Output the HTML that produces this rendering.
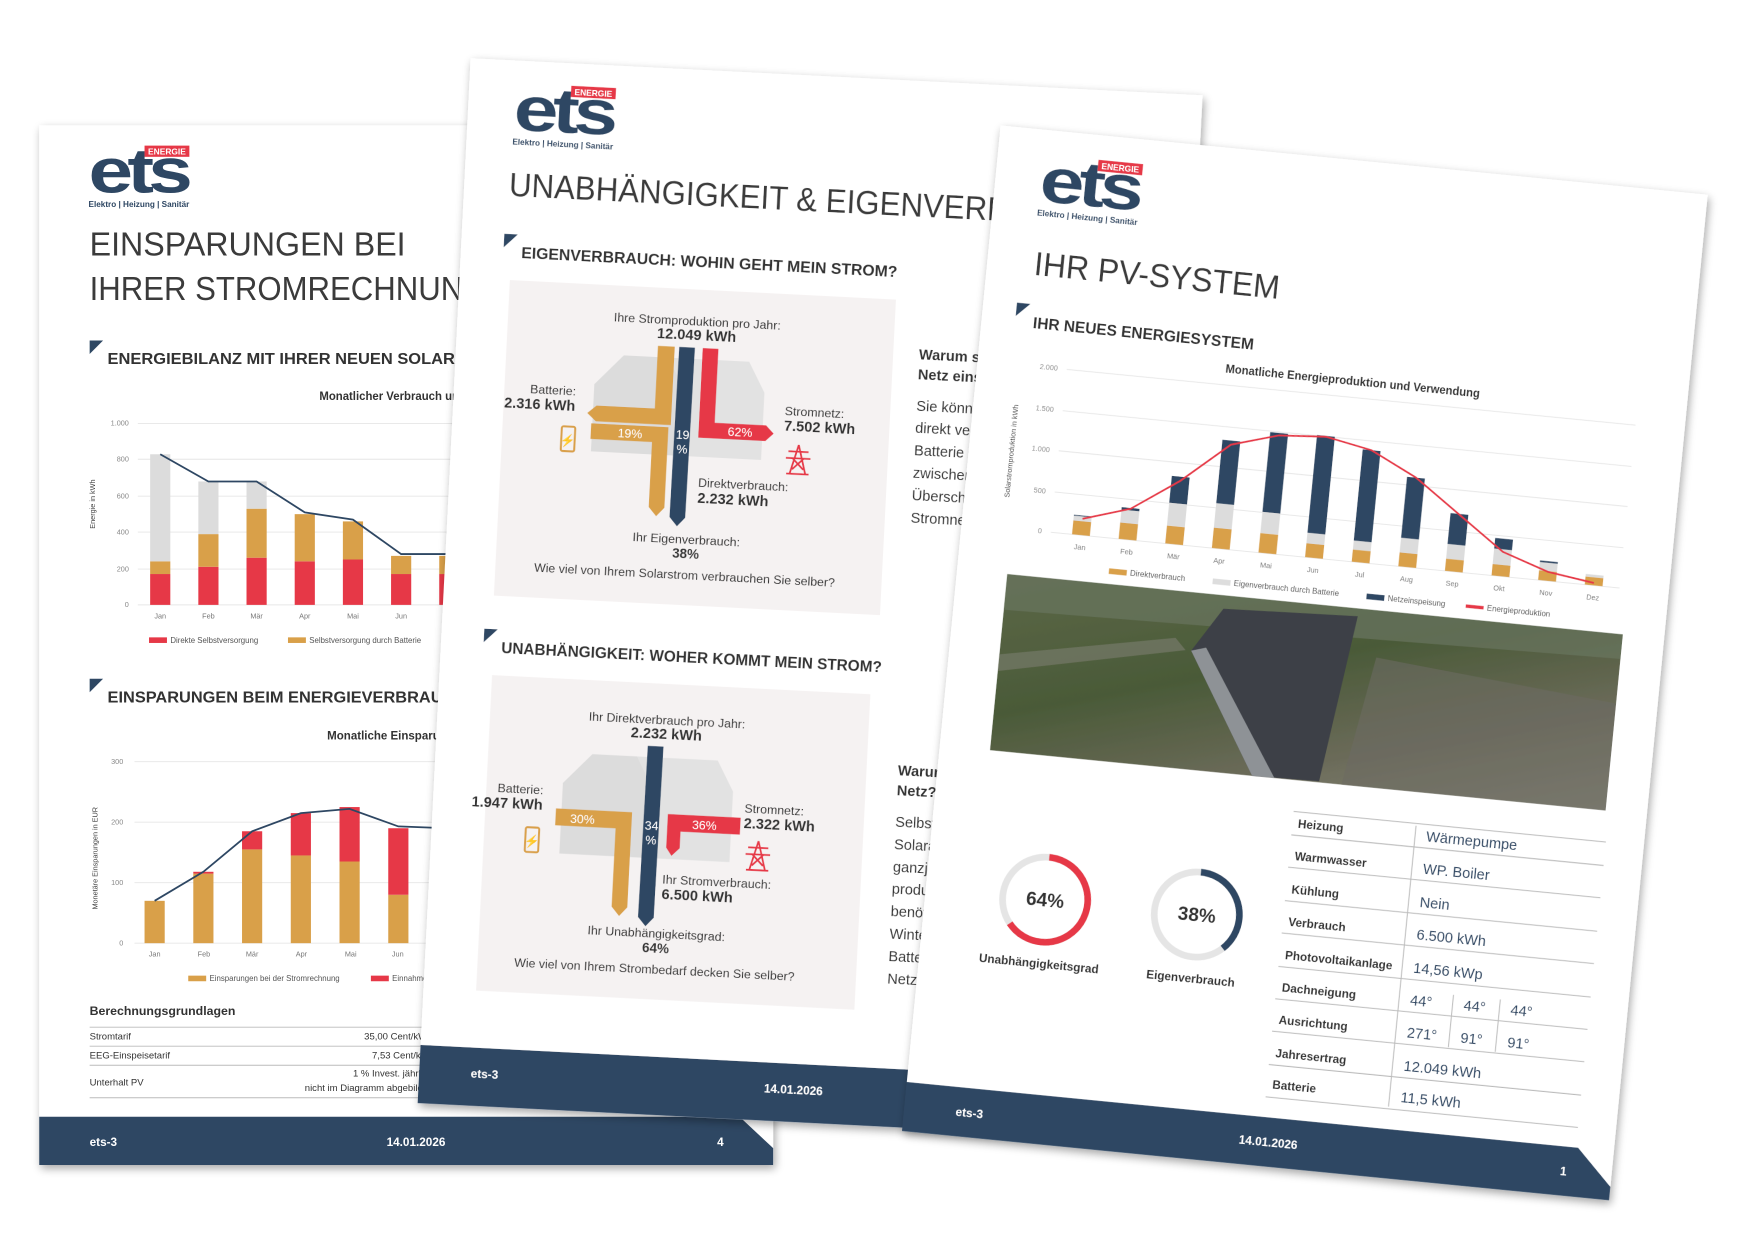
<!DOCTYPE html>
<html><head><meta charset="utf-8"><style>
html,body{margin:0;padding:0;background:#fff;}
svg{display:block;font-family:"Liberation Sans Narrow","Liberation Sans",sans-serif;}
</style></head><body>
<svg width="1748" height="1240" viewBox="0 0 1560 1107" preserveAspectRatio="none" xmlns="http://www.w3.org/2000/svg">
<defs>
<filter id="sh" x="-10%" y="-10%" width="120%" height="120%"><feGaussianBlur in="SourceAlpha" stdDeviation="4"/><feOffset dx="2" dy="3"/><feComponentTransfer><feFuncA type="linear" slope="0.35"/></feComponentTransfer><feMerge><feMergeNode/><feMergeNode in="SourceGraphic"/></feMerge></filter>
<linearGradient id="ph" x1="0" y1="0" x2="1" y2="1"><stop offset="0" stop-color="#5c6848"/><stop offset="0.4" stop-color="#4a5a38"/><stop offset="0.7" stop-color="#6a6a58"/><stop offset="1" stop-color="#8a8a7c"/></linearGradient>
<g id="logo">
<text x="0" y="42" font-size="56" font-weight="bold" fill="#2e4763" font-family="Liberation Sans" letter-spacing="-4" textLength="88" lengthAdjust="spacingAndGlyphs">ets</text>
<rect x="50" y="0" width="40" height="10" fill="#e63946"/>
<text x="70" y="8" font-size="7.5" fill="#fff" text-anchor="middle" font-weight="bold">ENERGIE</text>
<text x="0" y="55" font-size="7" fill="#2e4763" font-weight="bold" textLength="90" lengthAdjust="spacingAndGlyphs">Elektro | Heizung | Sanitär</text>
</g>
<g id="tower" stroke="#e63946" stroke-width="1.6" fill="none"><path d="M0,0 L-7,26 M0,0 L7,26 M-9,6 L9,6 M-11,12 L11,12 M-5,12 L5,22 M5,12 L-5,22 M-10,26 L10,26"/></g>
</defs>

<!-- LEFT PAGE -->
<g transform="translate(35,112)" filter="url(#sh)">
<rect x="0" y="0" width="655" height="928" fill="#fff"/>
<use href="#logo" x="44" y="18"/>
<text x="45" y="116" font-size="30" fill="#3a3a3a" textLength="282" lengthAdjust="spacingAndGlyphs">EINSPARUNGEN BEI</text>
<text x="45" y="156" font-size="30" fill="#3a3a3a" textLength="355" lengthAdjust="spacingAndGlyphs">IHRER STROMRECHNUNG</text>
<polygon points="45,192 57,192 45,204" fill="#2e4763"/>
<text x="61" y="213" font-size="14" fill="#333" font-weight="bold" textLength="372" lengthAdjust="spacingAndGlyphs">ENERGIEBILANZ MIT IHRER NEUEN SOLARANLAGE</text>
<text x="250" y="245" font-size="11" fill="#333" font-weight="bold" textLength="190" lengthAdjust="spacingAndGlyphs">Monatlicher Verbrauch und Versorgung</text>
<g font-size="6.5" fill="#888" text-anchor="end">
<text x="80" y="268">1.000</text><text x="80" y="300">800</text><text x="80" y="333">600</text><text x="80" y="365">400</text><text x="80" y="398">200</text><text x="80" y="430">0</text></g>
<g stroke="#e6e6e6" stroke-width="0.8"><line x1="88" y1="266" x2="420" y2="266"/><line x1="88" y1="298" x2="420" y2="298"/><line x1="88" y1="331" x2="420" y2="331"/><line x1="88" y1="363" x2="420" y2="363"/><line x1="88" y1="396" x2="420" y2="396"/><line x1="88" y1="428" x2="420" y2="428"/></g>
<text transform="translate(50,360) rotate(-90)" font-size="6.5" fill="#444">Energie in kWh</text>
<g id="lc1"></g>
<g font-size="6.5" fill="#777" text-anchor="middle"><text x="108" y="440">Jan</text><text x="151" y="440">Feb</text><text x="194" y="440">Mär</text><text x="237" y="440">Apr</text><text x="280" y="440">Mai</text><text x="323" y="440">Jun</text></g>
<rect x="98" y="457" width="16" height="5" fill="#e63946"/><text x="117" y="462" font-size="7" fill="#555">Direkte Selbstversorgung</text>
<rect x="222" y="457" width="16" height="5" fill="#d9a04a"/><text x="241" y="462" font-size="7" fill="#555">Selbstversorgung durch Batterie</text>

<polygon points="45,494 57,494 45,506" fill="#2e4763"/>
<text x="61" y="515" font-size="14" fill="#333" font-weight="bold" textLength="320" lengthAdjust="spacingAndGlyphs">EINSPARUNGEN BEIM ENERGIEVERBRAUCH</text>
<text x="257" y="548" font-size="11" fill="#333" font-weight="bold" textLength="125" lengthAdjust="spacingAndGlyphs">Monatliche Einsparungen</text>
<g font-size="6.5" fill="#888" text-anchor="end"><text x="75" y="570">300</text><text x="75" y="624">200</text><text x="75" y="678">100</text><text x="75" y="732">0</text></g>
<g stroke="#e6e6e6" stroke-width="0.8"><line x1="85" y1="568" x2="420" y2="568"/><line x1="85" y1="622" x2="420" y2="622"/><line x1="85" y1="676" x2="420" y2="676"/><line x1="85" y1="730" x2="420" y2="730"/></g>
<text transform="translate(52,700) rotate(-90)" font-size="6.5" fill="#444">Monetäre Einsparungen in EUR</text>
<g id="lc2"></g>
<g font-size="6.5" fill="#777" text-anchor="middle"><text x="103" y="742">Jan</text><text x="147" y="742">Feb</text><text x="190" y="742">Mär</text><text x="234" y="742">Apr</text><text x="278" y="742">Mai</text><text x="320" y="742">Jun</text></g>
<rect x="133" y="759" width="16" height="5" fill="#d9a04a"/><text x="152" y="764" font-size="7" fill="#555">Einsparungen bei der Stromrechnung</text>
<rect x="296" y="759" width="16" height="5" fill="#e63946"/><text x="315" y="764" font-size="7" fill="#555">Einnahmen</text>
<text x="45" y="794" font-size="11" font-weight="bold" fill="#333">Berechnungsgrundlagen</text>
<g stroke="#bbb" stroke-width="0.8"><line x1="45" y1="805" x2="420" y2="805"/><line x1="45" y1="822" x2="420" y2="822"/><line x1="45" y1="839" x2="420" y2="839"/><line x1="45" y1="868" x2="420" y2="868"/></g>
<g font-size="8.5" fill="#333"><text x="45" y="816">Stromtarif</text><text x="45" y="833">EEG-Einspeisetarif</text><text x="45" y="857">Unterhalt PV</text>
<text x="290" y="816">35,00 Cent/kWh</text><text x="297" y="833">7,53 Cent/kWh</text><text x="280" y="849">1 % Invest. jährlich</text><text x="237" y="862">nicht im Diagramm abgebildet</text></g>
<polygon points="0,885 625,885 655,913 655,928 0,928" fill="#2e4763"/>
<g font-size="10.5" fill="#fff" font-weight="bold"><text x="45" y="911">ets-3</text><text x="310" y="911">14.01.2026</text><text x="605" y="911">4</text></g>
</g>

<!-- MIDDLE PAGE -->
<g transform="translate(420,52) rotate(2.9)" filter="url(#sh)">
<rect x="0" y="0" width="654" height="934" fill="#fff"/>
<use href="#logo" x="41" y="20"/>
<text x="40" y="121" font-size="30" fill="#3a3a3a" textLength="545" lengthAdjust="spacingAndGlyphs">UNABHÄNGIGKEIT &amp; EIGENVERBRAUCH</text>
<polygon points="38,155 50,155 38,167" fill="#2e4763"/>
<text x="54" y="176" font-size="14" fill="#333" font-weight="bold" textLength="336" lengthAdjust="spacingAndGlyphs">EIGENVERBRAUCH: WOHIN GEHT MEIN STROM?</text>
<rect x="45" y="196" width="345" height="282" fill="#f5f2f2"/>
<g>
<polygon points="150,258 190,258 205,285 205,345 125,345 125,285" fill="#dcdcdc"/>
<polygon points="190,258 262,258 277,285 277,345 205,345 205,285" fill="#e2e2e2"/>
<polygon points="180,248 195,248 195,318 128,318 120,311 128,304 180,304" fill="#d9a04a"/>
<polygon points="124,320 193,320 193,392 186,400 179,392 179,334 124,334" fill="#d9a04a"/>
<polygon points="199,248 213,248 212,400 205,408 198,400" fill="#2e4763"/>
<polygon points="220,248 234,248 234,314 280,314 287,321 280,328 220,328" fill="#e63946"/>
<text x="148" y="331" font-size="11" fill="#fff">19%</text>
<text x="206" y="330" font-size="11" fill="#fff" text-anchor="middle">19</text><text x="206" y="343" font-size="11" fill="#fff" text-anchor="middle">%</text>
<text x="246" y="325" font-size="11" fill="#fff">62%</text>
<rect x="98" y="324" width="12" height="22" rx="1.5" fill="none" stroke="#d9a04a" stroke-width="1.8"/><text x="104" y="340" font-size="11" fill="#d9a04a" text-anchor="middle">⚡</text>
<use href="#tower" x="310" y="330"/>
<g font-size="11" fill="#333" text-anchor="middle"><text x="214" y="228">Ihre Stromproduktion pro Jahr:</text>
<text x="214" y="241" font-weight="bold" font-size="13">12.049 kWh</text>
<text x="109" y="296" text-anchor="end">Batterie:</text>
<text x="109" y="310" text-anchor="end" font-weight="bold" font-size="13">2.316 kWh</text>
<text x="296" y="304" text-anchor="start">Stromnetz:</text>
<text x="296" y="318" text-anchor="start" font-weight="bold" font-size="13">7.502 kWh</text>
<text x="222" y="372" text-anchor="start">Direktverbrauch:</text>
<text x="222" y="386" text-anchor="start" font-weight="bold" font-size="13">2.232 kWh</text>
<text x="214" y="423">Ihr Eigenverbrauch:</text>
<text x="214" y="436" font-weight="bold" font-size="12">38%</text>
<text x="214" y="455">Wie viel von Ihrem Solarstrom verbrauchen Sie selber?</text></g>
</g>
<polygon points="38,508 50,508 38,520" fill="#2e4763"/>
<text x="54" y="529" font-size="14" fill="#333" font-weight="bold" textLength="340" lengthAdjust="spacingAndGlyphs">UNABHÄNGIGKEIT: WOHER KOMMT MEIN STROM?</text>
<rect x="47" y="549" width="338" height="282" fill="#f5f2f2"/>
<g>
<polygon points="140,615 180,615 195,642 195,705 115,705 115,642" fill="#dcdcdc"/>
<polygon points="180,615 252,615 267,642 267,705 195,705 195,642" fill="#e2e2e2"/>
<polygon points="110,665 178,665 178,750 171,758 164,750 164,680 110,680" fill="#d9a04a"/>
<polygon points="189,605 203,605 202,758 195,766 188,758" fill="#2e4763"/>
<polygon points="210,665 275,665 275,680 222,680 222,695 215,702 210,695" fill="#e63946"/>
<text x="123" y="677" font-size="11" fill="#fff">30%</text>
<text x="196" y="680" font-size="11" fill="#fff" text-anchor="middle">34</text><text x="196" y="693" font-size="11" fill="#fff" text-anchor="middle">%</text>
<text x="232" y="677" font-size="11" fill="#fff">36%</text>
<rect x="84" y="683" width="12" height="22" rx="1.5" fill="none" stroke="#d9a04a" stroke-width="1.8"/><text x="90" y="699" font-size="11" fill="#d9a04a" text-anchor="middle">⚡</text>
<use href="#tower" x="292" y="685"/>
<g font-size="11" fill="#333" text-anchor="middle"><text x="205" y="585">Ihr Direktverbrauch pro Jahr:</text>
<text x="205" y="598" font-weight="bold" font-size="13">2.232 kWh</text>
<text x="98" y="653" text-anchor="end">Batterie:</text>
<text x="98" y="667" text-anchor="end" font-weight="bold" font-size="13">1.947 kWh</text>
<text x="278" y="660" text-anchor="start">Stromnetz:</text>
<text x="278" y="674" text-anchor="start" font-weight="bold" font-size="13">2.322 kWh</text>
<text x="208" y="727" text-anchor="start">Ihr Stromverbrauch:</text>
<text x="208" y="741" text-anchor="start" font-weight="bold" font-size="13">6.500 kWh</text>
<text x="205" y="776">Ihr Unabhängigkeitsgrad:</text>
<text x="205" y="789" font-weight="bold" font-size="12">64%</text>
<text x="205" y="808">Wie viel von Ihrem Strombedarf decken Sie selber?</text></g>
</g>
<g font-size="13" fill="#333"><text x="413" y="248" font-weight="bold">Warum sollte ich Strom ins</text><text x="413" y="266" font-weight="bold">Netz einspeisen?</text>
<text x="413" y="294">Sie können Ihren Strom</text><text x="413" y="314">direkt verbrauchen oder in der</text><text x="413" y="334">Batterie speichern und</text><text x="413" y="354">zwischenspeichern. Den</text><text x="413" y="374">Überschuss speisen Sie ins</text><text x="413" y="394">Stromnetz ein.</text>
<text x="413" y="620" font-weight="bold">Warum beziehe ich Strom vom</text><text x="413" y="638" font-weight="bold">Netz?</text>
<text x="413" y="666">Selbst mit einer</text><text x="413" y="686">Solaranlage können Sie nicht</text><text x="413" y="706">ganzjährig genug Strom</text><text x="413" y="726">produzieren. Vor allem</text><text x="413" y="746">benötigen Sie im</text><text x="413" y="766">Winter Strom aus der</text><text x="413" y="786">Batterie oder dem</text><text x="413" y="806">Netz.</text></g>
<rect x="0" y="882" width="654" height="52" fill="#2e4763"/>
<g font-size="10.5" fill="#fff" font-weight="bold"><text x="46" y="909">ets-3</text><text x="308" y="909">14.01.2026</text></g>
</g>

<!-- RIGHT PAGE -->
<g transform="translate(893,112) rotate(5.6)" filter="url(#sh)">
<rect x="0" y="0" width="634" height="902" fill="#fff"/>
<use href="#logo" x="40" y="22"/>
<text x="42" y="130" font-size="30" fill="#3a3a3a" textLength="220" lengthAdjust="spacingAndGlyphs">IHR PV-SYSTEM</text>
<polygon points="30,156 42,156 30,168" fill="#2e4763"/>
<text x="46" y="177" font-size="14" fill="#333" font-weight="bold" textLength="198" lengthAdjust="spacingAndGlyphs">IHR NEUES ENERGIESYSTEM</text>
<text x="335" y="200" font-size="11" fill="#333" font-weight="bold" text-anchor="middle" textLength="228" lengthAdjust="spacingAndGlyphs">Monatliche Energieproduktion und Verwendung</text>
<g font-size="6.5" fill="#888" text-anchor="end"><text x="72" y="213">2.000</text><text x="72" y="250">1.500</text><text x="72" y="286">1.000</text><text x="72" y="323">500</text><text x="72" y="359">0</text></g>
<g stroke="#e6e6e6" stroke-width="0.8"><line x1="80" y1="211" x2="590" y2="211"/><line x1="80" y1="248" x2="590" y2="248"/><line x1="80" y1="284" x2="590" y2="284"/><line x1="80" y1="321" x2="590" y2="321"/><line x1="80" y1="357" x2="590" y2="357"/></g>
<text transform="translate(40,330) rotate(-90)" font-size="6.5" fill="#444">Solarstromproduktion in kWh</text>
<g id="rc"></g>
<g font-size="6.5" fill="#777" text-anchor="middle"><text x="107" y="370">Jan</text><text x="149" y="370">Feb</text><text x="191" y="370">Mär</text><text x="232" y="370">Apr</text><text x="274" y="370">Mai</text><text x="316" y="370">Jun</text><text x="358" y="370">Jul</text><text x="400" y="370">Aug</text><text x="441" y="370">Sep</text><text x="483" y="370">Okt</text><text x="525" y="370">Nov</text><text x="567" y="370">Dez</text></g>
<g font-size="7" fill="#555"><rect x="135" y="384" width="16" height="5" fill="#d9a04a"/><text x="154" y="389">Direktverbrauch</text>
<rect x="228" y="384" width="16" height="5" fill="#ddd"/><text x="247" y="389">Eigenverbrauch durch Batterie</text>
<rect x="366" y="384" width="16" height="5" fill="#2e4763"/><text x="385" y="389">Netzeinspeisung</text>
<rect x="455" y="385" width="16" height="3" fill="#e63946"/><text x="474" y="389">Energieproduktion</text></g>
<rect x="45" y="398" width="552" height="158" fill="url(#ph)"/>
<polygon points="45,398 597,398 597,420 45,430" fill="#6a7560" opacity="0.7"/>
<polygon points="45,470 200,440 210,450 45,485" fill="#7d7f72" opacity="0.6"/>
<polygon points="240,410 360,405 340,555 280,556 215,450" fill="#3c4046"/>
<polygon points="215,450 280,556 300,556 228,446" fill="#8e9296"/>
<polygon points="380,440 597,460 597,556 360,556" fill="#6c6a62" opacity="0.6"/>
<circle cx="107" cy="684" r="38" fill="none" stroke="#e5e5e5" stroke-width="6"/>
<circle cx="107" cy="684" r="38" fill="none" stroke="#e63946" stroke-width="6" stroke-dasharray="152.8 238.8" transform="rotate(-90 107 684)"/>
<text x="107" y="690" font-size="17" font-weight="bold" fill="#333" text-anchor="middle">64%</text>
<text x="107" y="745" font-size="10.5" font-weight="bold" fill="#333" text-anchor="middle">Unabhängigkeitsgrad</text>
<circle cx="243" cy="684" r="38" fill="none" stroke="#e5e5e5" stroke-width="6"/>
<circle cx="243" cy="684" r="38" fill="none" stroke="#2e4763" stroke-width="6" stroke-dasharray="90.7 238.8" transform="rotate(-90 243 684)"/>
<text x="243" y="690" font-size="17" font-weight="bold" fill="#333" text-anchor="middle">38%</text>
<text x="243" y="745" font-size="10.5" font-weight="bold" fill="#333" text-anchor="middle">Eigenverbrauch</text>
<g font-size="10.5" fill="#333" font-weight="bold">
<text x="325" y="598">Heizung</text><text x="325" y="627">Warmwasser</text><text x="325" y="657">Kühlung</text><text x="325" y="686">Verbrauch</text><text x="325" y="716">Photovoltaikanlage</text><text x="325" y="745">Dachneigung</text><text x="325" y="774">Ausrichtung</text><text x="325" y="804">Jahresertrag</text><text x="325" y="832">Batterie</text></g>
<g font-size="13" fill="#2e4763">
<text x="440" y="599">Wärmepumpe</text><text x="440" y="628">WP. Boiler</text><text x="440" y="658">Nein</text><text x="440" y="687">6.500 kWh</text><text x="440" y="717">14,56 kWp</text>
<text x="440" y="746">44°</text><text x="488" y="746">44°</text><text x="530" y="746">44°</text>
<text x="440" y="775">271°</text><text x="488" y="775">91°</text><text x="530" y="775">91°</text>
<text x="440" y="805">12.049 kWh</text><text x="440" y="833">11,5 kWh</text></g>
<g stroke="#bbb" stroke-width="0.9"><line x1="320" y1="584" x2="600" y2="584"/><line x1="320" y1="605" x2="600" y2="605"/><line x1="320" y1="634" x2="600" y2="634"/><line x1="320" y1="664" x2="600" y2="664"/><line x1="320" y1="693" x2="600" y2="693"/><line x1="320" y1="723" x2="600" y2="723"/><line x1="320" y1="752" x2="600" y2="752"/><line x1="320" y1="781" x2="600" y2="781"/><line x1="320" y1="811" x2="600" y2="811"/><line x1="320" y1="840" x2="600" y2="840"/>
<line x1="430" y1="586" x2="430" y2="838"/><line x1="478" y1="733" x2="478" y2="780"/><line x1="520" y1="733" x2="520" y2="780"/></g>
<polygon points="0,858 602,858 634,890 634,902 0,902" fill="#2e4763"/>
<g font-size="10.5" fill="#fff" font-weight="bold"><text x="46" y="884">ets-3</text><text x="300" y="884">14.01.2026</text><text x="588" y="884">1</text></g>
</g>
<script>
var NS="http://www.w3.org/2000/svg";
function R(g,x,y,w,h,c){var r=document.createElementNS(NS,"rect");r.setAttribute("x",x);r.setAttribute("y",y);r.setAttribute("width",w);r.setAttribute("height",h);r.setAttribute("fill",c);g.appendChild(r);}
function L(g,pts,c,w){var p=document.createElementNS(NS,"polyline");p.setAttribute("points",pts.join(" "));p.setAttribute("fill","none");p.setAttribute("stroke",c);p.setAttribute("stroke-width",w);g.appendChild(p);}
var g=document.getElementById("lc1"),d=[[170,70,590],[210,180,290],[260,270,150],[240,260,0],[250,210,0],[170,100,0],[170,100,0]],ln=[830,680,680,510,470,280,280],pts=[],i,x,y,s;
for(i=0;i<7;i++){x=108+43*i;y=428;s=0.162;d[i].forEach(function(v,k){var h=v*s;y-=h;R(g,x-9,y,18,h,["#e63946","#d9a04a","#dcdcdc"][k]);});pts.push(x+","+(428-ln[i]*s));}
L(g,pts,"#2e4763",1.6);
g=document.getElementById("lc2");d=[[70,0],[115,3],[155,30],[145,70],[135,90],[80,110],[80,110]];ln=[70,118,185,215,222,193,190];pts=[];
for(i=0;i<7;i++){x=103+43.5*i;y=730;s=0.54;d[i].forEach(function(v,k){var h=v*s;y-=h;R(g,x-9,y,18,h,["#d9a04a","#e63946"][k]);});pts.push(x+","+(730-ln[i]*s));}
L(g,pts,"#2e4763",1.6);
g=document.getElementById("rc");d=[[170,60,10],[200,160,30],[220,280,330],[250,300,780],[240,260,980],[170,130,1200],[150,110,1120],[170,180,750],[150,180,380],[140,190,130],[120,100,20],[100,30,0]];ln=[200,380,780,1280,1450,1490,1380,1100,700,300,110,30];pts=[];
for(i=0;i<12;i++){x=107+41.8*i;y=357;s=0.073;d[i].forEach(function(v,k){var h=v*s;y-=h;R(g,x-8,y,16,h,["#d9a04a","#dcdcdc","#2e4763"][k]);});pts.push(x+","+(357-ln[i]*s));}
L(g,pts,"#e63946",1.6);
</script>
</svg>
</body></html>
